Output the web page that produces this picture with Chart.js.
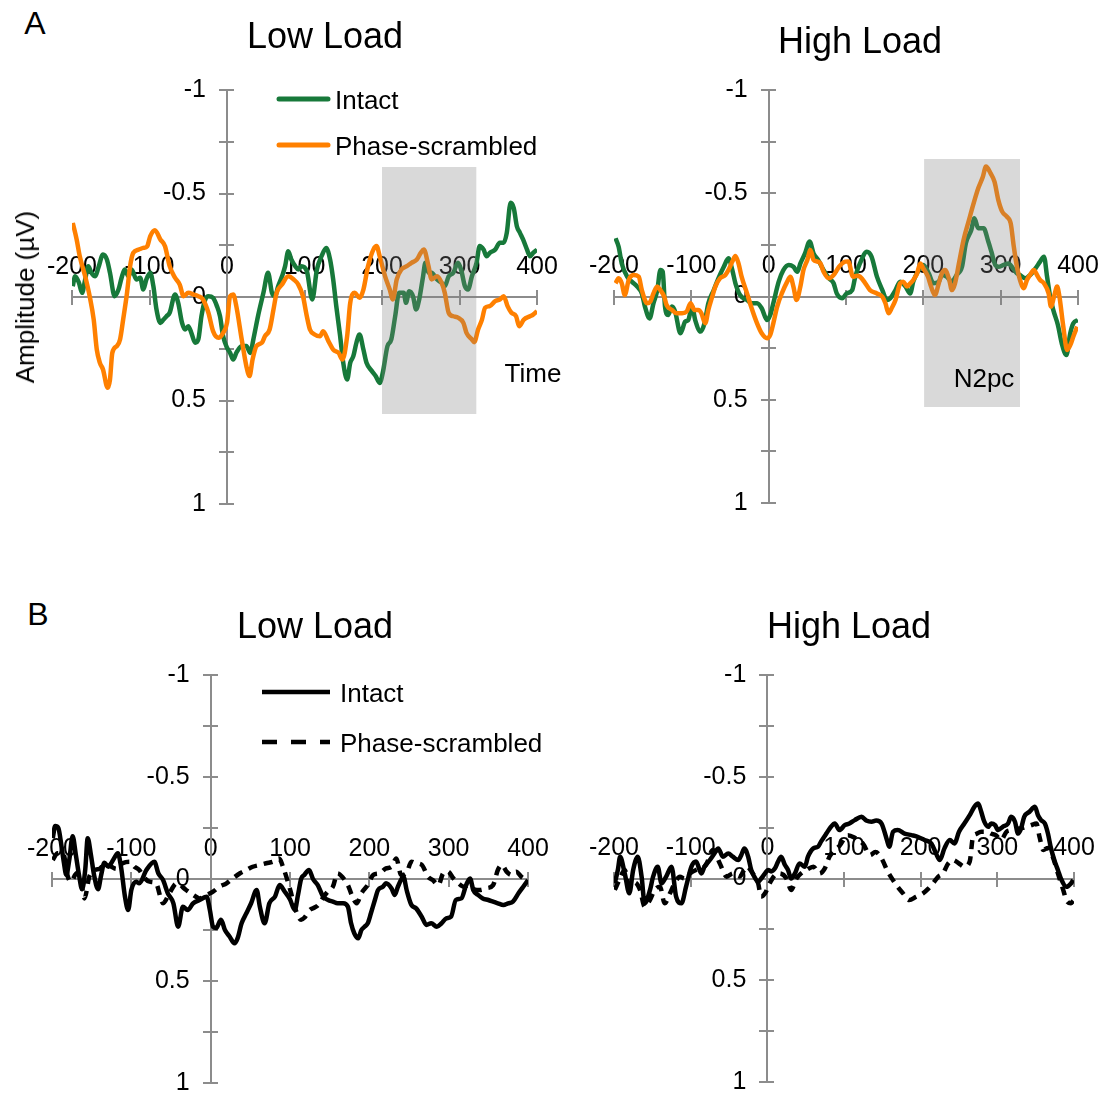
<!DOCTYPE html>
<html>
<head>
<meta charset="utf-8">
<script src="https://cdn.jsdelivr.net/npm/chart.js@4/dist/chart.umd.min.js"></script>
<style>
  html, body { margin: 0; padding: 0; background: #fff; }
  #wrap { position: relative; width: 1106px; height: 1095px; overflow: hidden; background: #fff; font-family: "Liberation Sans", Arial, sans-serif; color: #000; }
  canvas { position: absolute; }
  .t { position: absolute; white-space: nowrap; line-height: 1; transform: translate(-50%, -50%); }
  .l { position: absolute; white-space: nowrap; line-height: 1; transform: translate(0, -50%); }
</style>
</head>
<body>
<div id="wrap">
  <canvas id="cAL"></canvas>
  <canvas id="cAR"></canvas>
  <canvas id="cBL"></canvas>
  <canvas id="cBR"></canvas>

  <div class="t" style="left:35px;top:23px;font-size:32px;">A</div>
  <div class="t" style="left:38px;top:614px;font-size:32px;">B</div>
  <div class="t" style="left:325px;top:36px;font-size:36px;">Low Load</div>
  <div class="t" style="left:860px;top:41px;font-size:36px;">High Load</div>
  <div class="t" style="left:315px;top:626px;font-size:36px;">Low Load</div>
  <div class="t" style="left:849px;top:626px;font-size:36px;">High Load</div>
  <div class="t" style="left:25px;top:297px;font-size:26px;transform:translate(-50%,-50%) rotate(-90deg);">Amplitude (µV)</div>
  <div class="t" style="left:533px;top:373px;font-size:26px;">Time</div>
  <div class="t" style="left:984px;top:378px;font-size:26px;">N2pc</div>

  <svg style="position:absolute;left:0;top:0;" width="1106" height="1095">
    <line x1="279" y1="99" x2="328" y2="99" stroke="#17793a" stroke-width="5" stroke-linecap="round"/>
    <line x1="279" y1="145" x2="328" y2="145" stroke="#ff8000" stroke-width="5" stroke-linecap="round"/>
    <line x1="262" y1="692" x2="330" y2="692" stroke="#000" stroke-width="4.5"/>
    <line x1="262" y1="742" x2="330" y2="742" stroke="#000" stroke-width="4.5" stroke-dasharray="15 14"/>
  </svg>
  <div class="l" style="left:335px;top:100px;font-size:26px;">Intact</div>
  <div class="l" style="left:335px;top:146px;font-size:26px;">Phase-scrambled</div>
  <div class="l" style="left:340px;top:693px;font-size:26px;">Intact</div>
  <div class="l" style="left:340px;top:743px;font-size:26px;">Phase-scrambled</div>
</div>

<script>
// ---------------- data (time in ms, amplitude in µV) ----------------
const xTicks = [-200, -100, 0, 100, 200, 300, 400];
const yTicks = [-1, -0.5, 0, 0.5, 1];

// Panel A, Low Load, Intact
const aLowIntactT = [-199,-196,-191,-187,-183,-179,-175,-170,-166,-160,-155,-151,-145,-140,-136,-132,-127,-123,-117,-112,-108,-104,-99,-95,-91,-86,-82,-78,-74,-67,-63,-58,-54,-50,-46,-41,-37,-33,-28,-24,-18,-13,-9,-5,0,4,8,12,19,25,30,34,40,47,53,58,62,66,71,75,79,83,88,92,96,103,110,116,122,128,133,137,141,146,150,155,159,163,167,171,176,180,187,192,197,201,207,212,217,222,228,231,235,240,244,248,253,256,260,264,271,277,281,286,292,298,302,307,311,316,322,326,331,335,339,346,352,357,361,366,370,374,378,382,387,391,395,400];
const aLowIntactV = [-0.052,-0.1,-0.068,-0.02,-0.085,-0.149,-0.117,-0.1,-0.141,-0.205,-0.181,-0.117,-0.004,-0.036,-0.093,-0.133,-0.1,-0.133,-0.085,-0.093,-0.036,-0.085,-0.117,-0.052,0.06,0.125,0.109,0.093,0.076,-0.012,0.028,0.125,0.157,0.141,0.173,0.221,0.205,0.093,0.012,-0.004,0.004,0.044,0.093,0.189,0.245,0.27,0.302,0.27,0.237,0.237,0.27,0.205,0.093,-0.02,-0.117,-0.02,-0.004,-0.052,-0.1,-0.149,-0.221,-0.181,-0.149,-0.133,-0.149,-0.125,0.012,-0.133,-0.197,-0.237,-0.181,-0.085,0.044,0.189,0.318,0.399,0.318,0.286,0.221,0.181,0.254,0.318,0.358,0.383,0.415,0.366,0.238,0.205,0.093,-0.02,-0.02,0.028,-0.028,-0.004,0.06,0.012,-0.1,-0.165,-0.117,-0.117,-0.085,-0.068,-0.052,-0.1,-0.117,-0.165,-0.133,-0.052,-0.036,-0.1,-0.165,-0.246,-0.229,-0.197,-0.213,-0.229,-0.262,-0.262,-0.31,-0.455,-0.43,-0.342,-0.31,-0.278,-0.23,-0.197,-0.213,-0.229];

// Panel A, Low Load, Phase-scrambled
const aLowScrT = [-199,-194,-190,-183,-177,-172,-168,-164,-160,-154,-151,-148,-142,-138,-134,-129,-125,-121,-114,-108,-103,-99,-93,-86,-80,-74,-67,-61,-56,-50,-43,-37,-31,-24,-18,-11,-5,0,4,8,12,19,25,29,33,38,45,49,55,60,64,71,79,86,92,98,103,107,113,120,124,131,137,144,149,155,159,165,171,176,182,189,193,197,204,210,214,219,225,232,238,245,250,254,260,264,271,277,281,286,292,298,305,309,316,319,324,329,333,339,346,352,357,362,367,373,377,383,391,395,400];
const aLowScrV = [-0.358,-0.278,-0.197,-0.1,0,0.109,0.254,0.318,0.35,0.439,0.399,0.27,0.237,0.205,0.109,-0.02,-0.149,-0.213,-0.229,-0.237,-0.245,-0.294,-0.323,-0.278,-0.245,-0.149,-0.093,-0.06,-0.004,-0.02,-0.012,-0.004,0.012,0.076,0.165,0.197,0.173,0.125,-0.004,-0.012,0.044,0.205,0.334,0.382,0.302,0.237,0.221,0.189,0.157,0.06,-0.02,-0.06,-0.1,-0.085,-0.06,-0.004,0.093,0.157,0.181,0.19,0.165,0.214,0.254,0.27,0.302,0.19,0.028,-0.02,0.004,-0.036,-0.149,-0.23,-0.246,-0.197,-0.1,-0.036,0.012,-0.085,-0.133,-0.149,-0.165,-0.181,-0.213,-0.229,-0.149,-0.085,-0.1,-0.068,-0.02,0.076,0.093,0.1,0.125,0.173,0.205,0.218,0.157,0.109,0.052,0.044,0.02,0.012,-0.004,0.044,0.076,0.093,0.141,0.109,0.093,0.085,0.068];

// Panel A, High Load, Intact
const aHighIntactT = [-198,-194,-190,-183,-177,-170,-164,-160,-154,-149,-144,-140,-137,-134,-130,-125,-121,-114,-108,-104,-99,-95,-88,-83,-78,-71,-65,-58,-52,-47,-43,-37,-28,-22,-15,-9,-2,2,6,13,19,26,32,37,41,47,53,58,64,71,78,84,88,95,101,108,112,118,127,133,140,147,153,157,164,170,177,183,187,194,200,207,213,220,224,230,237,243,250,255,262,266,271,278,284,288,293,297,304,310,316,321,325,332,338,345,351,356,360,364,368,374,379,385,390,394,400];
const aHighIntactV = [-0.282,-0.241,-0.16,-0.096,-0.072,-0.048,-0.015,0.049,0.106,0.033,-0.031,-0.128,-0.12,0.049,0.09,0.049,0.073,0.178,0.122,0.114,0.049,0.114,0.17,0.13,0.033,-0.031,-0.088,-0.144,-0.185,-0.128,-0.064,-0.007,0.017,0.033,0.033,0.057,0.114,0.09,0.033,-0.072,-0.128,-0.153,-0.144,-0.12,-0.16,-0.209,-0.266,-0.209,-0.177,-0.128,-0.088,-0.064,-0.015,0.009,-0.015,-0.031,-0.096,-0.16,-0.217,-0.193,-0.096,-0.031,0.017,0.009,-0.031,-0.072,-0.048,-0.015,-0.072,-0.128,-0.153,-0.112,-0.064,-0.072,-0.104,-0.096,-0.072,-0.104,-0.144,-0.258,-0.322,-0.379,-0.33,-0.33,-0.266,-0.217,-0.153,-0.144,-0.153,-0.16,-0.136,-0.112,-0.104,-0.088,-0.104,-0.136,-0.169,-0.193,-0.096,0.001,0.065,0.138,0.227,0.283,0.178,0.13,0.114];

// Panel A, High Load, Phase-scrambled
const aHighScrT = [-198,-194,-190,-186,-181,-175,-168,-164,-157,-153,-149,-144,-140,-135,-132,-125,-119,-112,-106,-101,-96,-91,-87,-82,-78,-73,-69,-63,-56,-52,-47,-43,-39,-35,-28,-22,-15,-9,-2,2,6,11,17,24,28,32,36,41,45,50,54,58,63,67,71,78,84,91,99,103,109,114,118,125,131,140,147,151,155,159,164,170,174,179,183,187,192,196,200,206,210,215,220,224,228,233,237,241,246,252,259,265,271,277,281,287,292,297,302,308,313,317,321,325,330,334,338,343,347,351,356,362,365,369,373,376,381,386,391,394,399];
const aHighScrV = [-0.064,-0.088,-0.064,-0.007,-0.08,-0.104,-0.096,-0.031,0.033,0.025,-0.015,-0.048,-0.031,0.001,0.041,0.065,0.081,0.081,0.073,0.033,0.065,0.065,0.081,0.13,0.065,0.001,-0.048,-0.088,-0.104,-0.128,-0.169,-0.196,-0.16,-0.096,-0.015,0.057,0.13,0.178,0.202,0.186,0.13,0.049,-0.015,-0.072,-0.096,-0.048,0.017,-0.048,-0.128,-0.177,-0.225,-0.177,-0.169,-0.16,-0.12,-0.088,-0.104,-0.144,-0.169,-0.17,-0.096,-0.1,-0.096,-0.064,-0.031,-0.015,0.001,0.033,0.081,0.057,0.017,-0.064,-0.072,-0.048,-0.064,-0.08,-0.112,-0.16,-0.136,-0.096,-0.048,-0.007,-0.064,-0.112,-0.128,-0.088,-0.031,-0.064,-0.16,-0.274,-0.37,-0.451,-0.524,-0.58,-0.629,-0.596,-0.556,-0.467,-0.411,-0.387,-0.354,-0.241,-0.144,-0.08,-0.04,-0.08,-0.104,-0.128,-0.104,-0.08,-0.064,-0.015,0.049,0.001,-0.048,0.001,0.146,0.259,0.227,0.194,0.146];

// Panel B, Low Load, Intact
const bLowIntactT = [-199,-196,-192,-188,-185,-182,-178,-174,-170,-166,-162,-158,-155,-151,-147,-142,-138,-134,-129,-123,-117,-113,-108,-104,-100,-94,-90,-81,-71,-66,-60,-54,-47,-41,-35,-29,-22,-14,-5,-1,3,7,13,18,24,30,34,39,45,51,58,62,68,74,81,87,93,100,106,110,114,118,124,129,135,142,148,154,160,167,173,177,181,186,190,194,198,202,207,211,217,221,228,232,236,243,247,253,259,266,272,278,285,291,297,303,309,316,322,327,331,337,343,350,356,362,369,375,381,388,394,400];
const bLowIntactV = [-0.2,-0.26,-0.25,-0.16,-0.08,-0.02,-0.1,-0.21,-0.12,-0.02,0.05,-0.05,-0.2,-0.12,-0.02,0.05,-0.02,-0.08,-0.06,-0.093,-0.126,-0.06,0.087,0.152,0.054,0.013,0.021,-0.044,-0.085,-0.028,0.005,0.07,0.119,0.234,0.136,0.152,0.119,0.103,0.087,0.152,0.234,0.24,0.2,0.25,0.283,0.315,0.29,0.217,0.168,0.119,0.054,0.136,0.217,0.119,0.087,0.03,0.06,0.1,0.152,0.08,0,-0.02,-0.044,0,0.03,0.087,0.103,0.111,0.119,0.119,0.136,0.217,0.266,0.291,0.25,0.234,0.217,0.168,0.103,0.054,0.038,0.021,0.046,0.078,0.038,-0.011,0.054,0.127,0.144,0.185,0.225,0.217,0.234,0.217,0.193,0.185,0.103,0.095,0.03,-0.003,0.054,0.078,0.095,0.103,0.111,0.119,0.127,0.119,0.111,0.07,0.038,0.005];

// Panel B, Low Load, Phase-scrambled
const bLowScrT = [-199,-193,-186,-180,-176,-169,-163,-159,-153,-146,-140,-132,-125,-119,-111,-102,-96,-90,-83,-77,-69,-60,-52,-43,-31,-22,-14,-5,3,11,20,28,37,45,53,62,70,79,86,92,100,107,114,118,125,131,135,142,148,154,160,166,173,178,184,190,198,205,213,221,228,234,240,247,253,259,266,274,280,287,293,299,306,312,319,325,332,339,348,356,362,367,373,379,385,392,398];
const bLowScrV = [-0.093,-0.126,-0.126,-0.011,0.013,-0.028,0.021,0.095,-0.011,-0.044,-0.05,-0.077,-0.06,-0.05,-0.077,-0.085,-0.06,-0.044,-0.003,0.013,0.021,0.119,0.07,0.021,0.054,0.078,0.095,0.078,0.062,0.038,0.021,-0.003,-0.028,-0.044,-0.06,-0.069,-0.077,-0.085,-0.101,-0.05,0.05,0.15,0.2,0.19,0.152,0.14,0.13,0.09,0.06,0.038,-0.028,-0.01,0.03,0.08,0.119,0.07,0.03,-0.02,-0.028,-0.052,-0.06,-0.101,-0.02,-0.03,-0.085,-0.077,-0.07,-0.011,0.005,0.03,-0.028,-0.036,-0.003,0.02,0.038,0.03,0.05,0.054,0.045,0.03,-0.044,-0.069,-0.036,-0.02,-0.036,-0.01,0.005];

// Panel B, High Load, Intact
const bHighIntactT = [-199,-195,-192,-186,-180,-175,-169,-164,-160,-153,-149,-143,-138,-132,-125,-119,-112,-106,-99,-93,-86,-82,-75,-69,-64,-58,-51,-45,-38,-34,-30,-25,-21,-17,-12,-8,-3,1,5,10,14,18,23,27,31,36,42,49,53,60,66,70,77,83,88,94,101,107,114,123,129,136,142,149,156,159,164,170,179,188,196,205,214,220,225,231,238,244,250,257,264,270,275,279,283,288,292,297,301,307,314,318,323,327,331,335,342,349,353,357,362,366,370,375,379,383,390,396,399];
const bHighIntactV = [0.024,-0.042,-0.107,-0.025,0.073,-0.042,-0.107,-0.009,0.122,0.056,-0.009,-0.058,0.024,-0.009,-0.058,0.089,0.122,0.04,-0.058,-0.083,-0.025,-0.058,-0.091,-0.123,-0.148,-0.107,-0.123,-0.107,-0.091,-0.115,-0.148,-0.107,-0.042,-0.009,0.016,0,-0.025,-0.042,-0.035,-0.05,-0.083,-0.107,-0.066,-0.042,0,-0.025,-0.074,-0.058,-0.107,-0.148,-0.156,-0.181,-0.221,-0.254,-0.27,-0.238,-0.262,-0.27,-0.287,-0.303,-0.285,-0.279,-0.285,-0.27,-0.189,-0.156,-0.23,-0.238,-0.221,-0.213,-0.205,-0.189,-0.172,-0.123,-0.091,-0.148,-0.189,-0.172,-0.23,-0.27,-0.311,-0.352,-0.368,-0.328,-0.279,-0.254,-0.27,-0.262,-0.238,-0.254,-0.27,-0.303,-0.279,-0.221,-0.246,-0.303,-0.328,-0.352,-0.311,-0.287,-0.27,-0.221,-0.148,-0.083,-0.042,0.001,0.041,0.024,0.007];

// Panel B, High Load, Phase-scrambled
const bHighScrT = [-199,-193,-186,-180,-173,-166,-160,-153,-147,-140,-134,-127,-121,-114,-108,-101,-93,-86,-80,-71,-62,-53,-45,-36,-27,-19,-12,-8,-3,3,10,16,25,31,38,44,51,60,68,75,81,88,94,105,114,125,134,141,149,156,161,170,177,185,194,203,210,216,223,229,236,242,250,257,264,268,273,279,286,292,298,305,312,320,329,335,344,351,355,360,366,372,379,386,390,396,399];
const bHighScrV = [0.056,0.007,-0.042,0.04,0.02,0.056,0.138,0.105,0.056,0.04,0.122,0.073,0.024,-0.009,0,-0.025,-0.042,-0.05,-0.066,-0.14,-0.074,-0.009,-0.025,-0.01,-0.058,-0.025,0.024,0.089,0.073,0.024,-0.017,-0.025,0,0.056,0,-0.025,-0.042,-0.058,-0.025,-0.05,-0.107,-0.14,-0.16,-0.213,-0.2,-0.17,-0.115,-0.13,-0.099,-0.042,-0.009,0.041,0.073,0.106,0.09,0.073,0.05,0.024,-0.009,-0.025,-0.074,-0.091,-0.074,-0.058,-0.083,-0.2,-0.22,-0.23,-0.23,-0.22,-0.213,-0.19,-0.23,-0.238,-0.246,-0.25,-0.262,-0.27,-0.205,-0.14,-0.15,-0.11,-0.025,0.057,0.106,0.122,0.11];

// N2pc windows (ms from, ms to, µV top, µV bottom)
const aLowWindow = [200, 322, -0.628, 0.565];
const aHighWindow = [201, 325, -0.666, 0.535];

// ---------------- drawing ----------------
const GREEN = '#17793a', ORANGE = '#ff8000', AXIS = '#8c8c8c';
Chart.defaults.font.family = '"Liberation Sans", Arial, sans-serif';

function pts(t, v) { return t.map((x, i) => ({ x: x, y: v[i] })); }

function lineDs(label, t, v, color, dash, order) {
  return { label, data: pts(t, v), borderColor: color, borderWidth: 4.5, pointRadius: 0,
           borderDash: dash || [], borderCapStyle: 'butt', borderJoinStyle: 'round',
           cubicInterpolationMode: 'monotone', fill: false, order };
}
function shadeDs(w) {
  return { label: 'N2pc window', data: [{ x: w[0], y: w[2] }, { x: w[1], y: w[2] }],
           fill: { value: w[3] }, backgroundColor: 'rgba(128,128,128,0.3)',
           borderWidth: 0, pointRadius: 0, order: 0 };
}

function scalesFor(rect) {
  const pxPerMs = (rect.R - rect.L) / 600;
  const labelX = -21 / pxPerMs;
  const grid = { display: true, drawOnChartArea: false, drawTicks: true, tickLength: 7,
                 tickColor: AXIS, tickWidth: 2, color: AXIS, lineWidth: 2 };
  const yBase = { type: 'linear', min: -1, max: 1, reverse: true };
  const xBase = { type: 'linear', min: xTicks[0], max: xTicks[xTicks.length - 1] };
  return {
    x: Object.assign({}, xBase, { position: { y: 0 },
      ticks: { stepSize: 100, autoSkip: false, maxRotation: 0, minRotation: 0, padding: -52,
               color: '#000', font: { size: 25 }, callback: v => String(v) },
      grid: Object.assign({}, grid), border: { display: true, color: AXIS, width: 2 } }),
    x2: Object.assign({}, xBase, { axis: 'x', position: { y: 0 },
      ticks: { display: false, stepSize: 100 },
      grid: Object.assign({}, grid, { tickLength: -7 }), border: { display: false } }),
    y: Object.assign({}, yBase, { position: { x: 0 },
      ticks: { display: false, stepSize: 0.25 },
      grid: Object.assign({}, grid), border: { display: true, color: AXIS, width: 2 } }),
    y2: Object.assign({}, yBase, { axis: 'y', position: { x: 0 },
      ticks: { display: false, stepSize: 0.25 },
      grid: Object.assign({}, grid, { tickLength: -7 }), border: { display: false } }),
    yl: Object.assign({}, yBase, { axis: 'y', position: { x: labelX },
      ticks: { stepSize: 0.5, padding: 0, color: '#000', font: { size: 25 },
               callback: v => yTicks.some(t => Math.abs(t - v) < 1e-6) ? String(Math.round(v * 100) / 100) : '' },
      grid: { display: false, drawTicks: false }, border: { display: false } })
  };
}

function panel(id, rect, datasets) {
  const pad = { left: 50, right: 50, top: 40, bottom: 40 };
  const c = document.getElementById(id);
  const w = rect.R - rect.L + pad.left + pad.right;
  const h = rect.B - rect.T + pad.top + pad.bottom;
  c.width = w; c.height = h;
  c.style.left = (rect.L - pad.left) + 'px';
  c.style.top = (rect.T - pad.top) + 'px';
  c.style.width = w + 'px'; c.style.height = h + 'px';
  new Chart(c, {
    type: 'line',
    data: { datasets },
    options: {
      responsive: false, animation: false, devicePixelRatio: 1,
      layout: { padding: pad },
      plugins: { legend: { display: false }, tooltip: { enabled: false } },
      scales: scalesFor(rect)
    }
  });
}

panel('cAL', { L: 72, R: 537, T: 90, B: 504 }, [
  lineDs('Intact', aLowIntactT, aLowIntactV, GREEN, null, 2),
  lineDs('Phase-scrambled', aLowScrT, aLowScrV, ORANGE, null, 1),
  shadeDs(aLowWindow)
]);
panel('cAR', { L: 614, R: 1078, T: 90, B: 503 }, [
  lineDs('Intact', aHighIntactT, aHighIntactV, GREEN, null, 2),
  lineDs('Phase-scrambled', aHighScrT, aHighScrV, ORANGE, null, 1),
  shadeDs(aHighWindow)
]);
panel('cBL', { L: 52, R: 528, T: 675, B: 1083 }, [
  lineDs('Intact', bLowIntactT, bLowIntactV, '#000', null, 2),
  lineDs('Phase-scrambled', bLowScrT, bLowScrV, '#000', [9, 7], 1)
]);
panel('cBR', { L: 614, R: 1074, T: 675, B: 1082 }, [
  lineDs('Intact', bHighIntactT, bHighIntactV, '#000', null, 2),
  lineDs('Phase-scrambled', bHighScrT, bHighScrV, '#000', [9, 7], 1)
]);
</script>
</body>
</html>
